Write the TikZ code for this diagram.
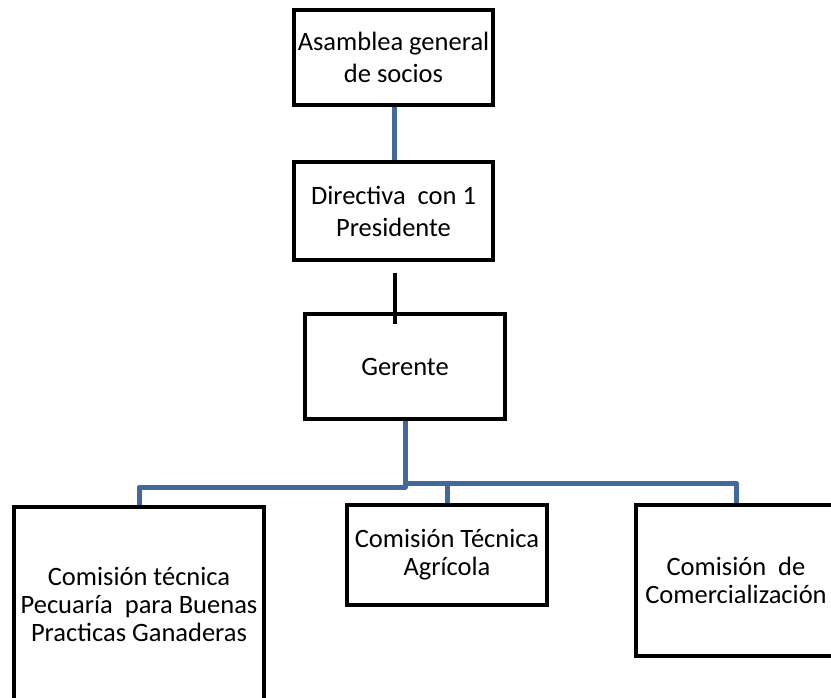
\documentclass[tikz,border=0pt]{standalone}
\usepackage{fontspec}
\setmainfont{Carlito}
\usetikzlibrary{backgrounds}
\definecolor{linkblue}{RGB}{66,104,156}
\begin{document}
\begin{tikzpicture}[x=1pt,y=-1pt,
  box/.style={draw=black,line width=4.5pt,inner sep=0pt,align=center,
    font=\fontsize{26.5}{32}\selectfont},
  lowbox/.style={box,font=\fontsize{26.5}{28}\selectfont},
  link/.style={draw=linkblue,line width=5pt,line join=round},
  tick/.style={draw=black,line width=4.5pt}]
\clip (0,0) rectangle (831,697);

% upper chain
\node[box,minimum width=199pt,minimum height=95pt] (asam) at (393.5,57.5)
  {Asamblea general\\de socios};
\node[box,minimum width=199pt,minimum height=98pt] (dir) at (393.5,211)
  {Directiva\ \ con 1\\Presidente};
\node[box,minimum width=200pt,minimum height=105pt] (ger) at (405,366.5)
  {Gerente};

% commissions
\node[lowbox,minimum width=250pt,minimum height=194pt] (pec) at (139,604)
  {Comisión técnica\\Pecuaría\ \ para Buenas\\Practicas Ganaderas};
\node[lowbox,minimum width=200pt,minimum height=100pt] (agr) at (447,555)
  {Comisión Técnica\\Agrícola};
\node[lowbox,minimum width=200pt,minimum height=151pt] (com) at (736,580.5)
  {Comisión\ \ de\\Comercialización};

% bus and loose tick positions
\coordinate (tickTop) at (395,273);
\coordinate (tickEnd) at (395,324);
\coordinate (busL) at (405,487);
\coordinate (busR) at (405,483);
\coordinate (busM) at (447,483);

\begin{scope}[on background layer]
  \draw[link] ([xshift=0.5pt]asam.south) -- ([xshift=0.5pt]dir.north);
  \draw[tick] (tickTop) -- (tickEnd);
  \draw[link] (ger.south) -- (busL) -| (pec.north);
  \draw[link] (busR) -| (com.north);
  \draw[link] (busM) -- (agr.north);
\end{scope}
\end{tikzpicture}
\end{document}
